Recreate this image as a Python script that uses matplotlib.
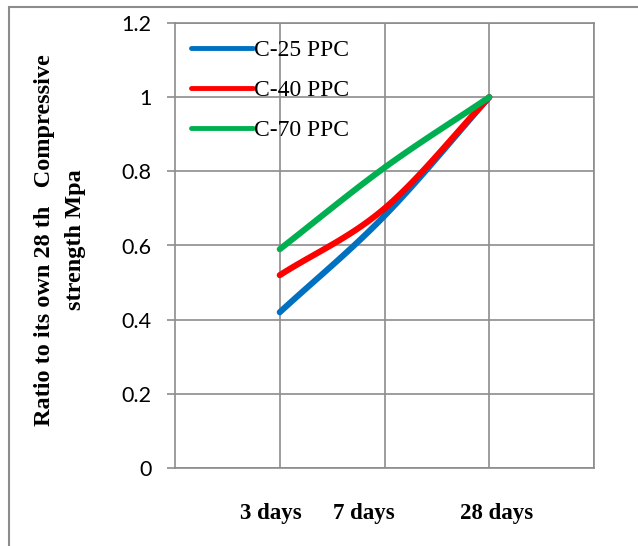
import numpy as np
import matplotlib.pyplot as plt
from matplotlib.patches import Rectangle

# ratio of strength at each age to the 28 day strength
ages = ["3 days", "7 days", "28 days"]
c25 = [0.42, 0.68, 1.0]
c40 = [0.52, 0.70, 1.0]
c70 = [0.59, 0.81, 1.0]
names = ["C-25 PPC", "C-40 PPC", "C-70 PPC"]
colors = ["#0070C0", "#FF0000", "#00B050"]
yticks = [0, 0.2, 0.4, 0.6, 0.8, 1, 1.2]
ytick_labels = ["0", "0.2", "0.4", "0.6", "0.8", "1", "1.2"]

serif = ["Liberation Serif", "DejaVu Serif"]


def smooth(x, y, n=40):
    # catmull-rom style curve through the points, like a smoothed line series
    x = np.asarray(x, float); y = np.asarray(y, float)
    px = np.concatenate([[2*x[0]-x[1]], x, [2*x[-1]-x[-2]]])
    py = np.concatenate([[2*y[0]-y[1]], y, [2*y[-1]-y[-2]]])
    xs, ys = [], []
    for i in range(1, len(px)-2):
        t = np.linspace(0, 1, n)
        for p, out in ((px, xs), (py, ys)):
            p0, p1, p2, p3 = p[i-1], p[i], p[i+1], p[i+2]
            out.extend(0.5*((2*p1) + (-p0+p2)*t + (2*p0-5*p1+4*p2-p3)*t**2
                            + (-p0+3*p1-3*p2+p3)*t**3))
    return xs, ys


fig = plt.figure(figsize=(6.38, 5.46), dpi=100)
ax = fig.add_axes([175/638, 78/546, 419/638, 445/546])

xpos = [1, 2, 3]
for vals, name, col in zip([c25, c40, c70], names, colors):
    sx, sy = smooth(xpos, vals)
    ax.plot(sx, sy, color=col, lw=4.4, solid_capstyle='round', label=name)

ax.set_xlim(0, 4)
ax.set_ylim(0, 1.2)
ax.set_yticks(yticks)
ax.set_yticklabels(ytick_labels, fontsize=15.5, family="Lato")
ax.set_xticks([1, 2, 3, 4])
ax.set_xticklabels([])
ax.grid(True, color="#8c8c8c", lw=1.2)
ax.set_axisbelow(True)
for s in ax.spines.values():
    s.set_color("#8c8c8c")
    s.set_linewidth(1.2)
ax.tick_params(axis='y', length=6, color="#8c8c8c", width=1.2, pad=11)
ax.tick_params(axis='x', length=0)

# category labels under the axis
for label, xc in zip(ages, [0.91, 1.80, 3.07]):
    ax.text(xc, -0.103, label, ha='center', va='center', fontsize=16.5,
            fontweight='bold', family=serif,
            transform=ax.get_xaxis_transform())

fig.text(45/638, 1 - 240/546, "Ratio to its own 28 th   Compressive",
         rotation=90, ha='center', va='center', fontsize=17.5,
         fontweight='bold', family=serif)
fig.text(75/638, 1 - 240/546, "strength Mpa",
         rotation=90, ha='center', va='center', fontsize=17.5,
         fontweight='bold', family=serif)

leg = ax.legend(loc='upper left', bbox_to_anchor=(0.005, 0.995), frameon=False,
                prop={'family': serif, 'size': 17}, handlelength=2.6,
                handletextpad=0.05, labelspacing=0.78, borderaxespad=0.2)
for h in leg.get_lines():
    h.set_linewidth(3.5)

fig.patches.append(Rectangle((9/638, -0.1), 2, 1.1 - 7/546,
                             transform=fig.transFigure, fill=False,
                             edgecolor="#8c8c8c", lw=1.5))

fig.savefig("out.png", dpi=100)
